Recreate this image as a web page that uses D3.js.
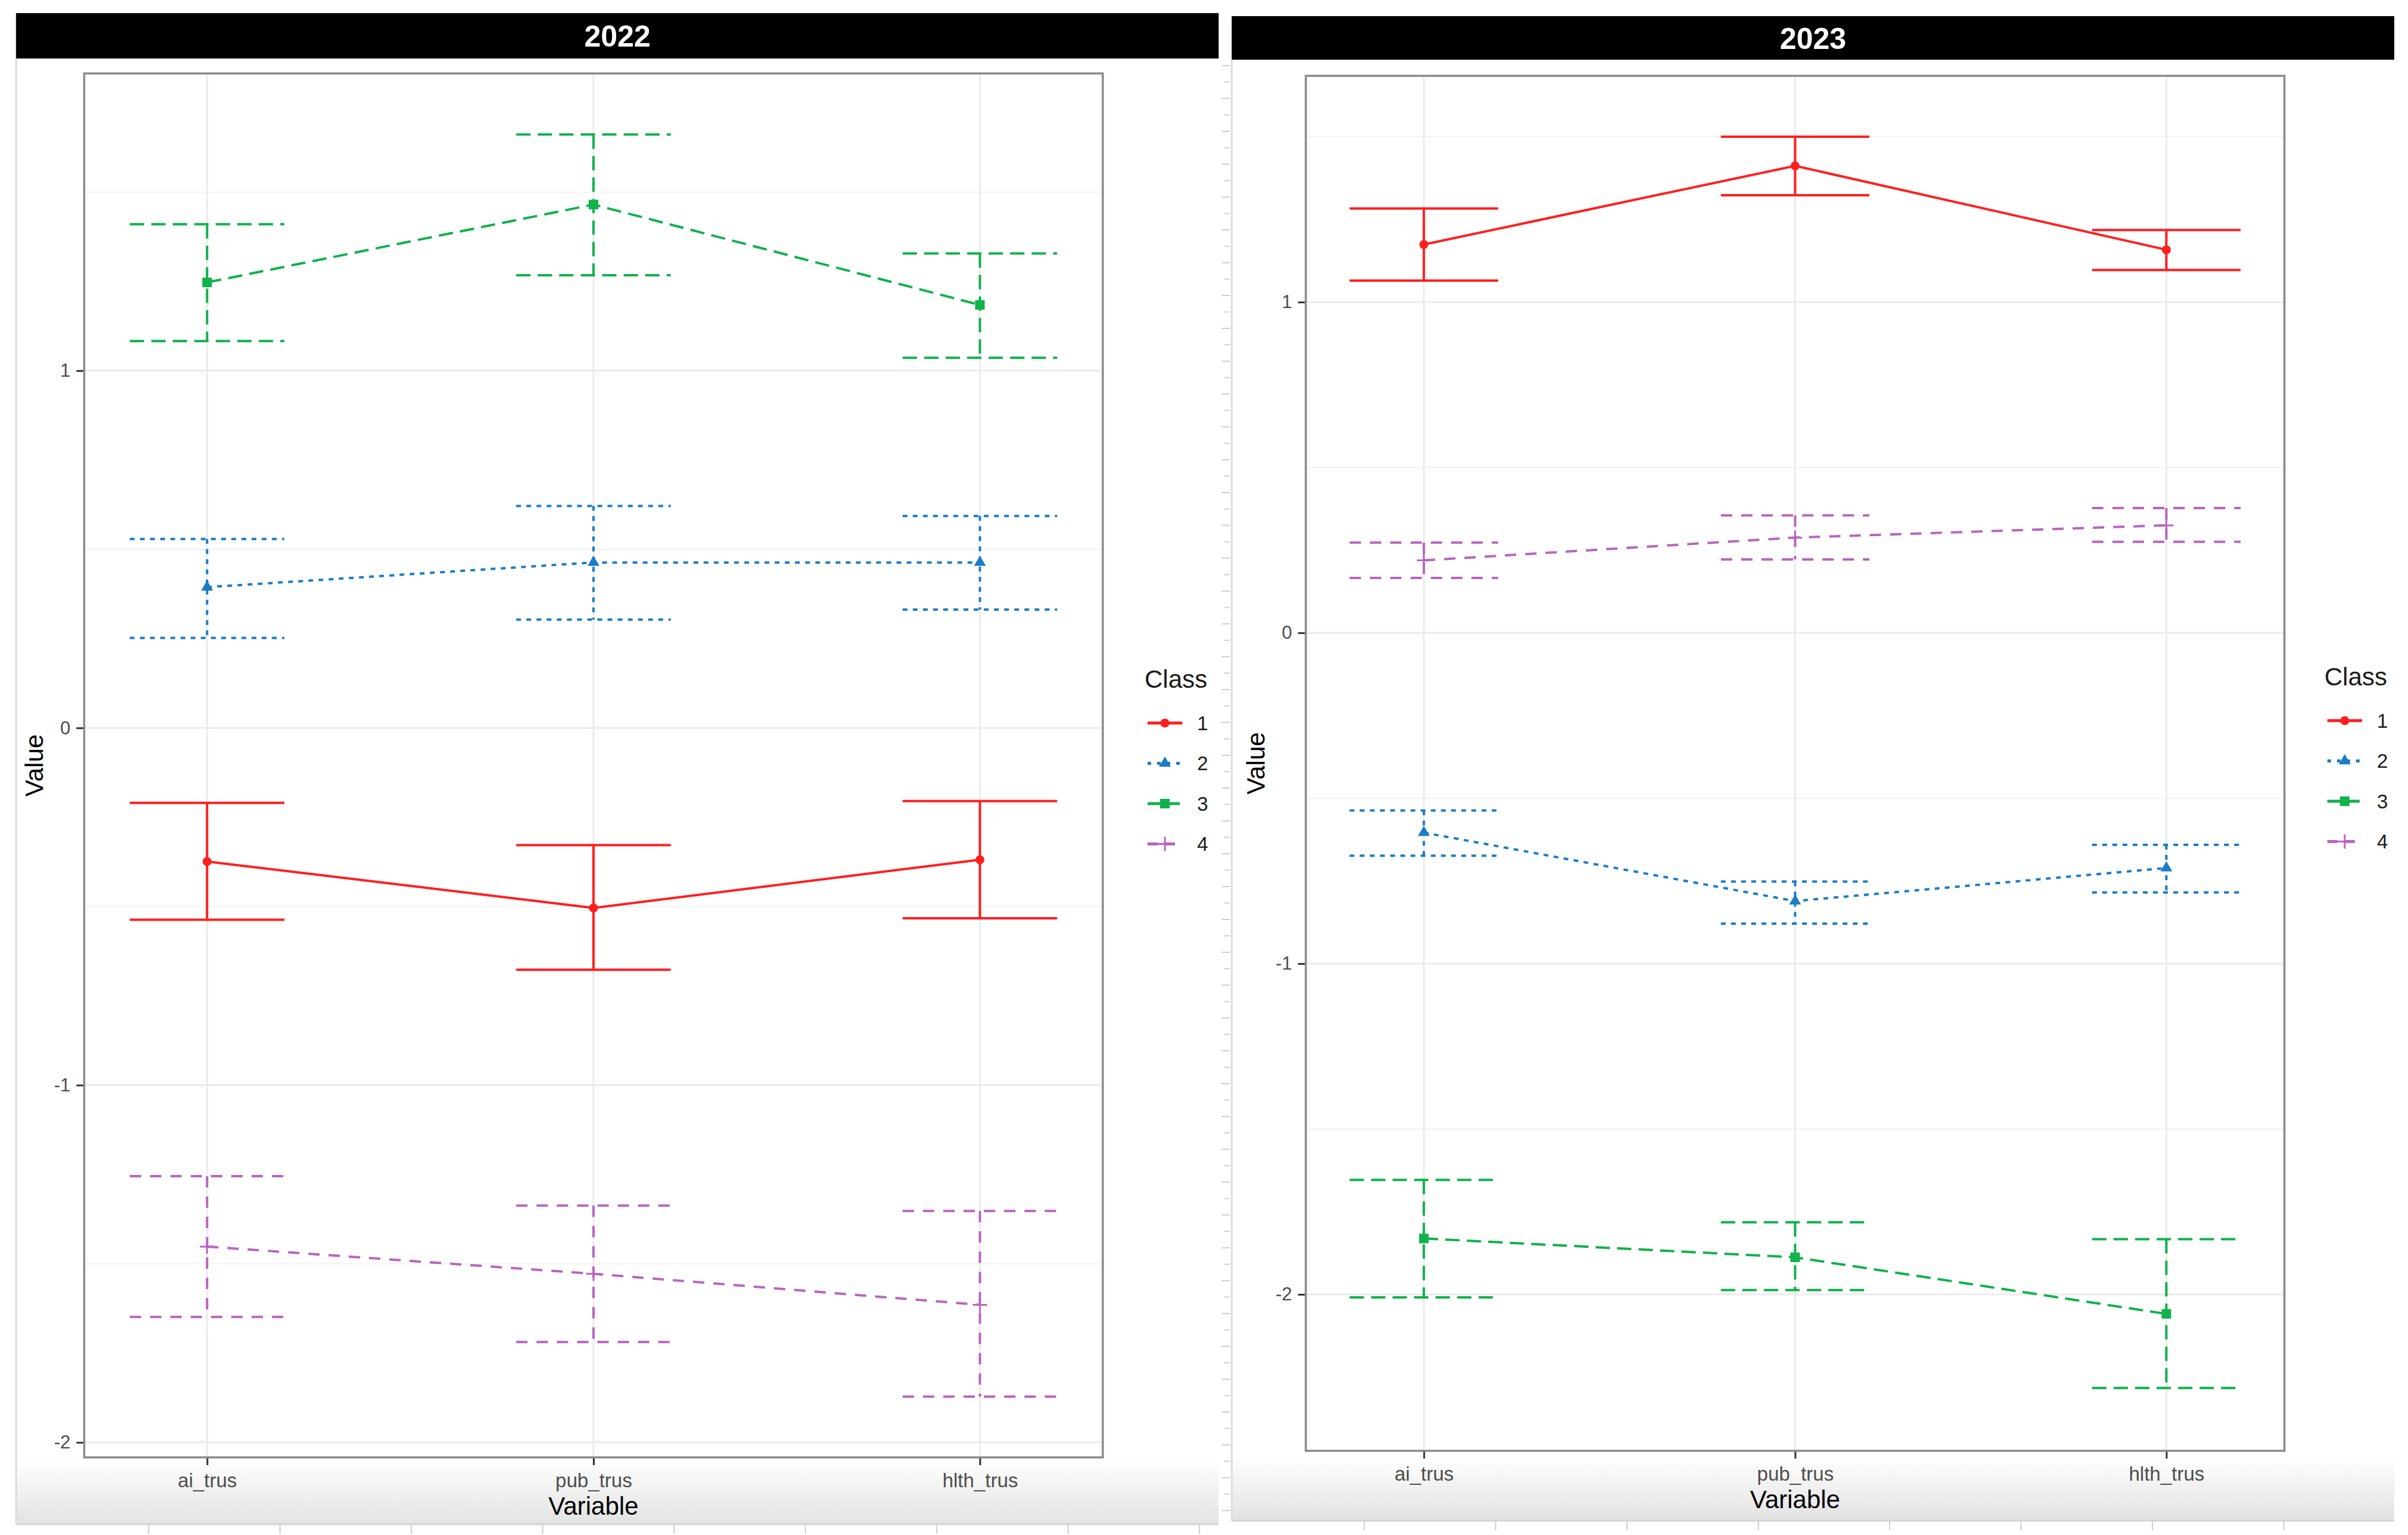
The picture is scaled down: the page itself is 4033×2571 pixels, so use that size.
<!DOCTYPE html>
<html>
<head>
<meta charset="utf-8">
<script src="https://cdnjs.cloudflare.com/ajax/libs/d3/7.8.5/d3.min.js"></script>
<style>
  html, body { margin: 0; padding: 0; background: #fff; }
  text { font-family: "Liberation Sans", Arial, Helvetica, sans-serif; }
</style>
</head>
<body>
<div id="chart"></div>
<script>
// ---- data ----
const variables = ["ai_trus", "pub_trus", "hlth_trus"];
const classes = ["1", "2", "3", "4"];
const years = ["2022", "2023"];
const yTicks = [-2, -1, 0, 1];

// rows = class 1..4, columns = ai_trus, pub_trus, hlth_trus
const mean2022  = [[-0.374, -0.504, -0.369], [0.394, 0.463, 0.463], [1.247, 1.465, 1.184], [-1.452, -1.528, -1.615]];
const upper2022 = [[-0.210, -0.328, -0.205], [0.529, 0.621, 0.593], [1.410, 1.661, 1.328], [-1.255, -1.337, -1.352]];
const lower2022 = [[-0.537, -0.677, -0.533], [0.252, 0.303, 0.331], [1.083, 1.267, 1.036], [-1.649, -1.719, -1.872]];

const mean2023  = [[1.174, 1.412, 1.158], [-0.604, -0.811, -0.711], [-1.831, -1.888, -2.059], [0.219, 0.288, 0.325]];
const upper2023 = [[1.283, 1.500, 1.218], [-0.537, -0.752, -0.641], [-1.654, -1.782, -1.833], [0.273, 0.355, 0.377]];
const lower2023 = [[1.065, 1.323, 1.097], [-0.674, -0.879, -0.785], [-2.009, -1.987, -2.283], [0.166, 0.222, 0.275]];

const yDomain2022 = [-2.042, 1.832];
const yDomain2023 = [-2.473, 1.684];

// ---- styles ----
const classColor = ["#FF1F1F", "#1B7CC6", "#11B14B", "#B865BE"];
const classDash = [null, "8,9", "24,12", "19,15"];
const legendDash = [null, "6,10", "22,10", "17,12"];
const lineW = 4;

const W = 4033, H = 2571;
var svg = d3.select("#chart").append("svg")
    .attr("width", W)
    .attr("height", H)
    .attr("style", "display:block;background:#fff");

var defs = svg.append("defs");
var grad = defs.append("linearGradient")
    .attr("id", "shade")
    .attr("x1", "0").attr("y1", "0").attr("x2", "0").attr("y2", "1");
grad.append("stop").attr("offset", "0%").attr("stop-color", "#ffffff");
grad.append("stop").attr("offset", "100%").attr("stop-color", "#e2e2e2");

const panels = [
    {year: years[0], mean: mean2022, upper: upper2022, lower: lower2022, yDomain: yDomain2022,
     frame: [27, 2041], strip: [22, 98], plot: [141, 123, 1847, 2441],
     legendX: 1917, legendY: 1137, shade: [2445, 2553]},
    {year: years[1], mean: mean2023, upper: upper2023, lower: lower2023, yDomain: yDomain2023,
     frame: [2063, 4010], strip: [27, 100], plot: [2187, 127, 3826, 2430],
     legendX: 3893, legendY: 1133, shade: [2438, 2547]}
];

// screenshot edges (the figure is two pasted captures)
function drawFrame(p) {
    svg.append("rect")
        .attr("x", p.frame[0]).attr("y", p.shade[0])
        .attr("width", p.frame[1] - p.frame[0]).attr("height", p.shade[1] - p.shade[0])
        .attr("fill", "url(#shade)");
    svg.append("line")
        .attr("x1", p.frame[0]).attr("x2", p.frame[1])
        .attr("y1", p.shade[1]).attr("y2", p.shade[1])
        .attr("stroke", "#d4d4d4").attr("stroke-width", 3);
    svg.selectAll(null)
        .data(d3.range(p.frame[0] + 222, p.frame[1], 220)).enter()
        .append("line")
        .attr("x1", d => d).attr("x2", d => d)
        .attr("y1", p.shade[1]).attr("y2", p.shade[1] + 16)
        .attr("stroke", "#cfcfcf").attr("stroke-width", 2);
    svg.append("line")
        .attr("x1", p.frame[0]).attr("x2", p.frame[0])
        .attr("y1", p.strip[0]).attr("y2", p.shade[1])
        .attr("stroke", "#dcdcdc").attr("stroke-width", 3);
}

function drawPanel(p) {
    drawFrame(p);
    var g = svg.append("g");
    const [x0, y0, x1, y1] = p.plot;

    //strip
    g.append("rect")
        .attr("x", p.frame[0]).attr("y", p.strip[0])
        .attr("width", p.frame[1] - p.frame[0]).attr("height", p.strip[1] - p.strip[0])
        .attr("fill", "#000");
    g.append("text")
        .text(p.year)
        .attr("x", (p.frame[0] + p.frame[1]) / 2)
        .attr("y", (p.strip[0] + p.strip[1]) / 2)
        .attr("dy", "0.36em")
        .attr("text-anchor", "middle")
        .attr("font-weight", "bold")
        .attr("font-size", 50)
        .attr("fill", "#fff");

    var x = d3.scalePoint().domain(variables).range([x0, x1]).padding(0.318);
    var y = d3.scaleLinear().domain(p.yDomain).range([y1, y0]);

    //panel + grid
    g.append("rect")
        .attr("x", x0).attr("y", y0).attr("width", x1 - x0).attr("height", y1 - y0)
        .attr("fill", "#fff");
    var minor = d3.range(Math.ceil(p.yDomain[0] * 2) / 2, p.yDomain[1], 0.5).filter(v => Math.abs(v % 1) === 0.5);
    g.selectAll(null).data(minor).enter().append("line")
        .attr("x1", x0).attr("x2", x1)
        .attr("y1", d => y(d)).attr("y2", d => y(d))
        .attr("stroke", "#f2f2f2").attr("stroke-width", 2);
    g.selectAll(null).data(yTicks).enter().append("line")
        .attr("x1", x0).attr("x2", x1)
        .attr("y1", d => y(d)).attr("y2", d => y(d))
        .attr("stroke", "#ebebeb").attr("stroke-width", 3);
    g.selectAll(null).data(variables).enter().append("line")
        .attr("x1", d => x(d)).attr("x2", d => x(d))
        .attr("y1", y0).attr("y2", y1)
        .attr("stroke", "#ebebeb").attr("stroke-width", 3);

    //axes
    var yAxis = d3.axisLeft(y).tickValues(yTicks).tickSize(13).tickPadding(10).tickFormat(d3.format("d"));
    var ya = g.append("g").attr("transform", "translate(" + x0 + ",0)").call(yAxis);
    ya.select(".domain").remove();
    ya.selectAll(".tick line").attr("stroke", "#333").attr("stroke-width", 3);
    ya.selectAll(".tick text")
        .attr("font-size", 31)
        .attr("fill", "#4d4d4d")
        .attr("font-family", "Liberation Sans, Arial, sans-serif")
        .text(d => d < 0 ? "-" + Math.abs(d) : d);

    var xAxis = d3.axisBottom(x).tickSize(13).tickPadding(14);
    var xa = g.append("g").attr("transform", "translate(0," + y1 + ")").call(xAxis);
    xa.select(".domain").remove();
    xa.selectAll(".tick line").attr("stroke", "#333").attr("stroke-width", 3);
    xa.selectAll(".tick text")
        .attr("font-size", 33)
        .attr("fill", "#4d4d4d")
        .attr("font-family", "Liberation Sans, Arial, sans-serif");

    g.append("rect")
        .attr("x", x0).attr("y", y0).attr("width", x1 - x0).attr("height", y1 - y0)
        .attr("fill", "none").attr("stroke", "#8a8a8a").attr("stroke-width", 3.5);

    //axis titles
    g.append("text").text("Variable")
        .attr("x", (x0 + x1) / 2).attr("y", y1 + 96)
        .attr("text-anchor", "middle").attr("font-size", 42).attr("fill", "#000");
    g.append("text").text("Value")
        .attr("transform", "translate(" + (x0 - 84) + "," + ((y0 + y1) / 2) + ") rotate(-90)")
        .attr("text-anchor", "middle").attr("dy", "0.35em")
        .attr("font-size", 42).attr("fill", "#000");

    //error bars, lines, points per class
    var capHalf = x.step() * 0.2;
    classes.forEach((c, ci) => {
        var pts = variables.map((v, vi) => ({
            v: v, m: p.mean[ci][vi], lo: p.lower[ci][vi], hi: p.upper[ci][vi]
        }));
        var cg = g.append("g")
            .attr("stroke", classColor[ci])
            .attr("stroke-width", lineW)
            .attr("fill", "none")
            .attr("stroke-dasharray", classDash[ci]);
        pts.forEach(d => {
            var path = d3.path();
            path.moveTo(x(d.v) - capHalf, y(d.hi));
            path.lineTo(x(d.v) + capHalf, y(d.hi));
            path.moveTo(x(d.v), y(d.hi));
            path.lineTo(x(d.v), y(d.lo));
            path.moveTo(x(d.v) - capHalf, y(d.lo));
            path.lineTo(x(d.v) + capHalf, y(d.lo));
            cg.append("path").attr("d", path.toString());
        });
        cg.append("path")
            .attr("d", d3.line().x(d => x(d.v)).y(d => y(d.m))(pts));
        pts.forEach(d => drawPoint(g, ci, x(d.v), y(d.m)));
    });

    //legend
    var lg = g.append("g");
    lg.append("text").text("Class")
        .attr("x", p.legendX).attr("y", p.legendY).attr("dy", "0.36em")
        .attr("font-size", 42).attr("fill", "#1a1a1a");
    classes.forEach((c, ci) => {
        var ly = p.legendY + 74 + ci * 67.5;
        lg.append("line")
            .attr("x1", p.legendX + 5).attr("x2", p.legendX + 63)
            .attr("y1", ly).attr("y2", ly)
            .attr("stroke", classColor[ci]).attr("stroke-width", lineW + 1)
            .attr("stroke-dasharray", legendDash[ci]);
        drawPoint(lg, ci, p.legendX + 34, ly);
        lg.append("text").text(c)
            .attr("x", p.legendX + 88).attr("y", ly).attr("dy", "0.36em")
            .attr("font-size", 33).attr("fill", "#1a1a1a");
    });
}

function drawPoint(g, ci, cx, cy) {
    var col = classColor[ci];
    if (ci === 0) {
        g.append("circle").attr("cx", cx).attr("cy", cy).attr("r", 7.5)
            .attr("fill", col).attr("stroke", "none");
    } else if (ci === 1) {
        g.append("path").attr("d", d3.symbol(d3.symbolTriangle, 170)())
            .attr("transform", "translate(" + cx + "," + cy + ")")
            .attr("fill", col).attr("stroke", "none");
    } else if (ci === 2) {
        g.append("rect").attr("x", cx - 8).attr("y", cy - 8).attr("width", 16).attr("height", 16)
            .attr("fill", col).attr("stroke", "none");
    } else {
        g.append("path")
            .attr("d", "M" + (cx - 12) + "," + cy + "H" + (cx + 12) + "M" + cx + "," + (cy - 12) + "V" + (cy + 12))
            .attr("stroke", col).attr("stroke-width", 3).attr("fill", "none");
    }
}

panels.forEach(drawPanel);

// ruler-like ticks on the left edge of the second capture
svg.selectAll(null)
    .data(d3.range(110, 2540, 27.5)).enter()
    .append("line")
    .attr("x1", (d, i) => i % 2 ? 2050 : 2046).attr("x2", 2060)
    .attr("y1", d => d).attr("y2", d => d)
    .attr("stroke", "#d0d0d0").attr("stroke-width", 2);
</script>
</body>
</html>
